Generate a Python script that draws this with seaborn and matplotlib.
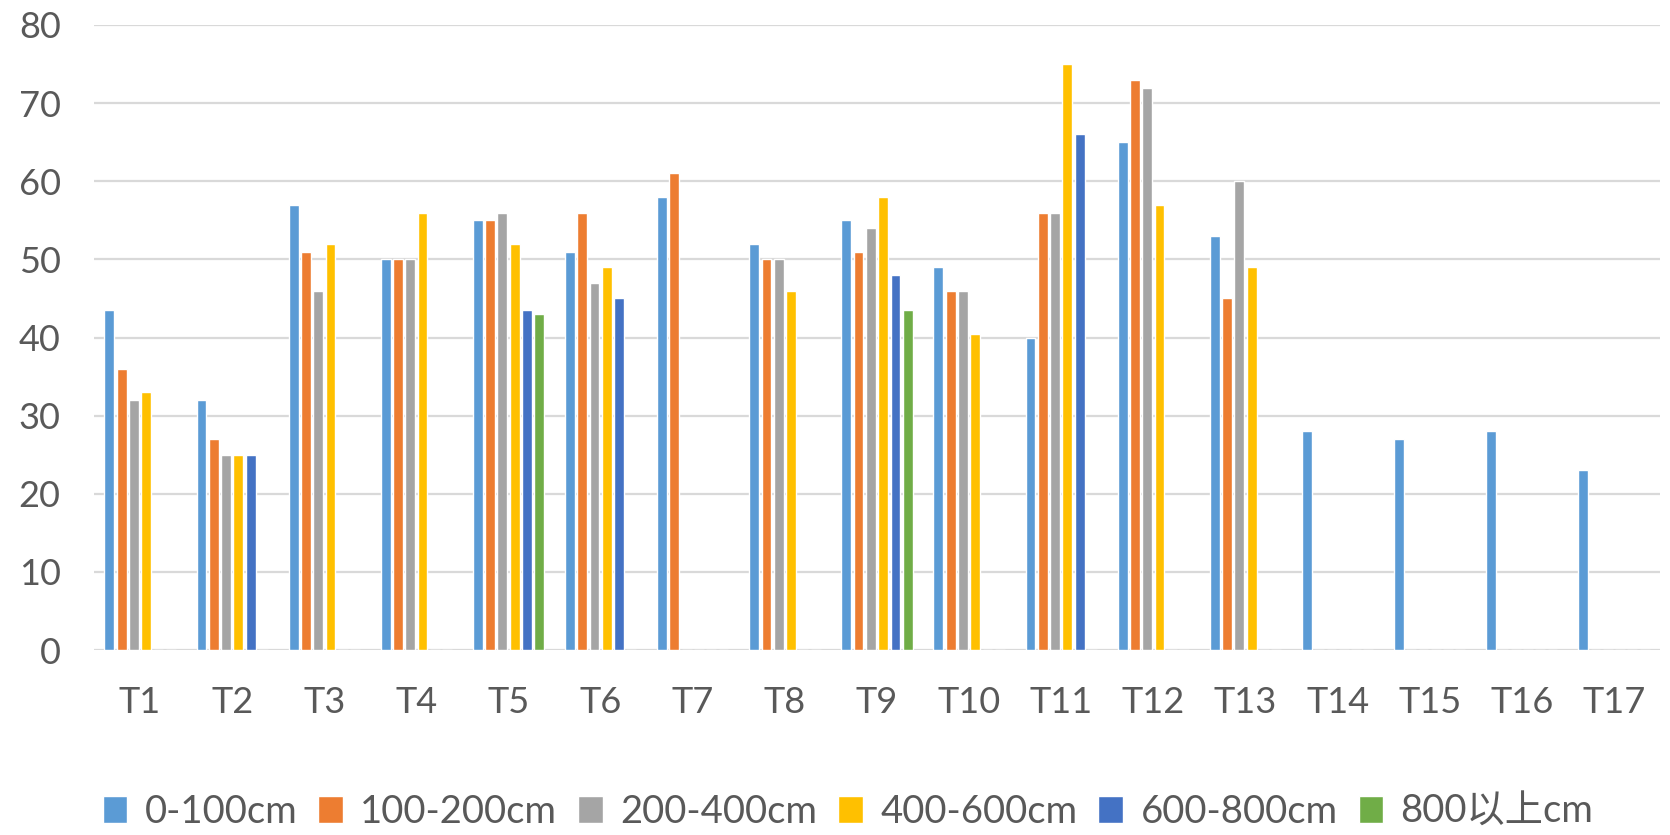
import matplotlib
matplotlib.use("Agg")
import matplotlib.pyplot as plt
import seaborn as sns
import pandas as pd

# Sites
sites = ["T1", "T2", "T3", "T4", "T5", "T6", "T7", "T8", "T9",
         "T10", "T11", "T12", "T13", "T14", "T15", "T16", "T17"]

# Height classes
classes = ["0-100cm", "100-200cm", "200-400cm", "400-600cm", "600-800cm", "800以上cm"]

# Values per height class (0 = no data for that site)
h_0_100 = [43.5, 32, 57, 50, 55, 51, 58, 52, 55, 49, 40, 65, 53, 28, 27, 28, 23]
h_100_200 = [36, 27, 51, 50, 55, 56, 61, 50, 51, 46, 56, 73, 45, 0, 0, 0, 0]
h_200_400 = [32, 25, 46, 50, 56, 47, 0, 50, 54, 46, 56, 72, 60, 0, 0, 0, 0]
h_400_600 = [33, 25, 52, 56, 52, 49, 0, 46, 58, 40.5, 75, 57, 49, 0, 0, 0, 0]
h_600_800 = [0, 25, 0, 0, 43.5, 45, 0, 0, 48, 0, 66, 0, 0, 0, 0, 0, 0]
h_800_up = [0, 0, 0, 0, 43, 0, 0, 0, 43.5, 0, 0, 0, 0, 0, 0, 0, 0]

colors = ["#5B9BD5", "#ED7D31", "#A5A5A5", "#FFC000", "#4472C4", "#70AD47"]

series = [h_0_100, h_100_200, h_200_400, h_400_600, h_600_800, h_800_up]
rows = []
for cls, vals in zip(classes, series):
    for s, v in zip(sites, vals):
        rows.append({"site": s, "class": cls, "value": v})
df = pd.DataFrame(rows)

sns.set_theme(style="white")
plt.rcParams["font.family"] = ["Lato", "Noto Sans CJK SC"]
text_color = "#595959"

fig = plt.figure(figsize=(16.7, 8.35), dpi=100)
ax = fig.add_axes([94 / 1670, 1 - 650 / 835, 1566 / 1670, (650 - 25) / 835])

sns.barplot(data=df, x="site", y="value", hue="class", order=sites,
            hue_order=classes, palette=colors, width=0.8, gap=0.2,
            errorbar=None, ax=ax, legend=True, saturation=1)

ax.set_ylim(0, 80)
ax.set_xlim(-0.5, len(sites) - 0.5)
ax.set_yticks(range(0, 81, 10))
ax.yaxis.grid(True, color="#D9D9D9", linewidth=1.6)
ax.set_axisbelow(True)
for sp in ax.spines.values():
    sp.set_visible(False)
ax.set_xlabel("")
ax.set_ylabel("")
ax.tick_params(axis="both", length=0, labelsize=26, colors=text_color)
ax.tick_params(axis="x", pad=26)
ax.tick_params(axis="y", pad=24)

handles, labels = ax.get_legend_handles_labels()
ax.get_legend().remove()
leg = fig.legend(handles, labels, loc="center", ncol=6,
                 bbox_to_anchor=(848 / 1670, 23 / 835), frameon=False,
                 fontsize=27.5, handlelength=0.65, handleheight=0.7,
                 handletextpad=0.45, columnspacing=0.55, borderaxespad=0)
for t in leg.get_texts():
    t.set_color(text_color)

fig.savefig("out.png", dpi=100)
